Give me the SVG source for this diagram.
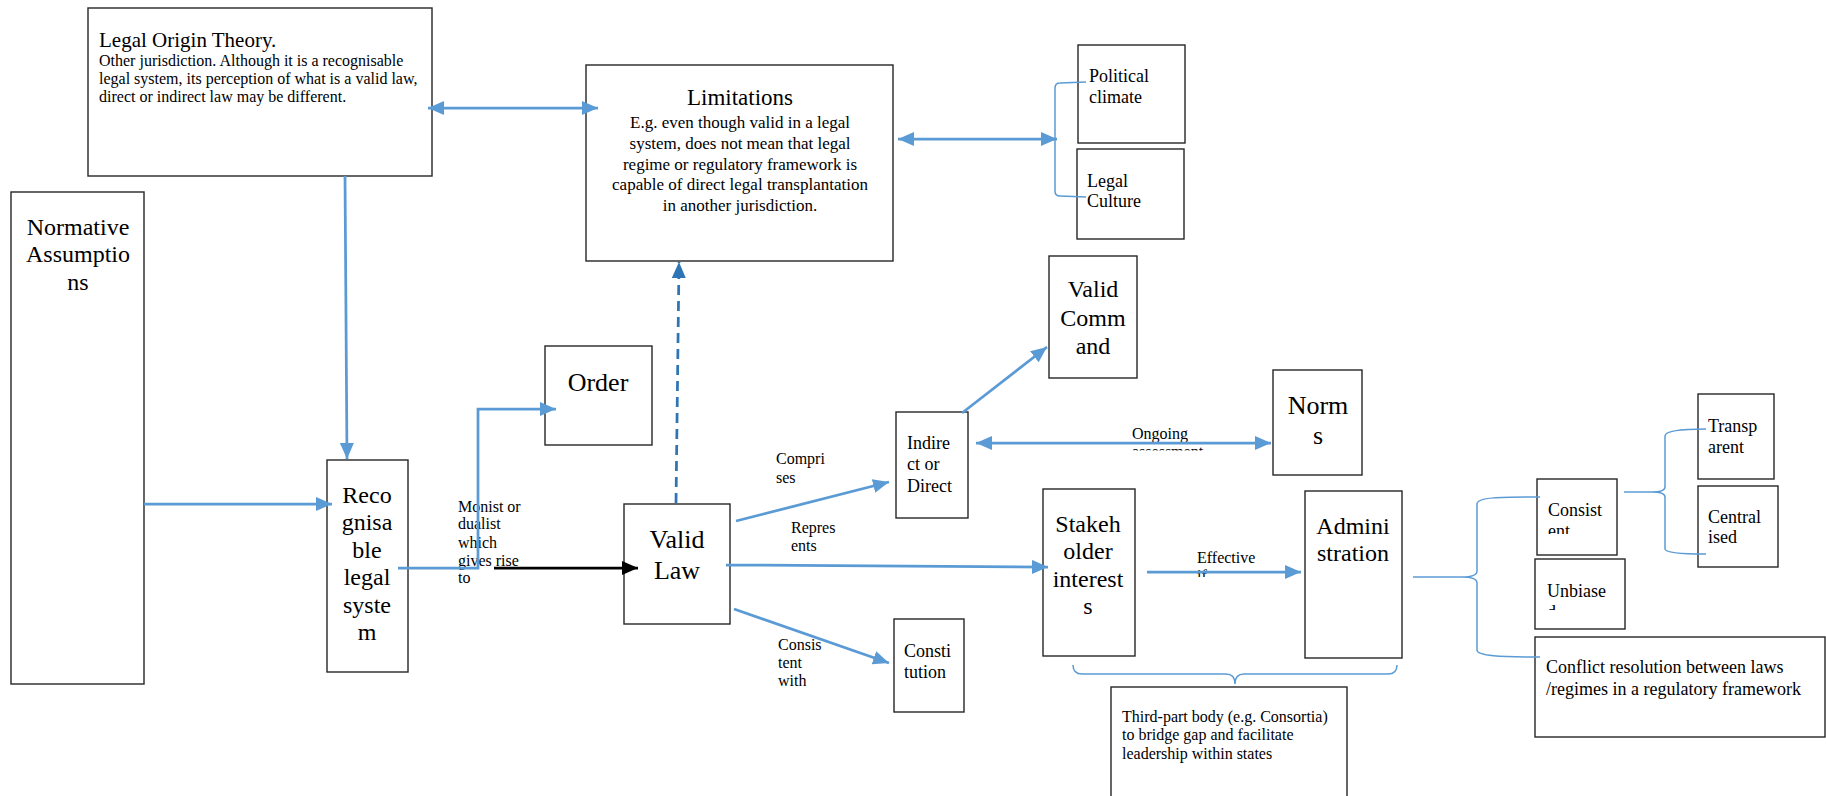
<svg xmlns="http://www.w3.org/2000/svg" width="1826" height="796" viewBox="0 0 1826 796">
  <style>
    .box { fill: #ffffff; stroke: #262626; stroke-width: 1.4; }
    .t { font-family: "Liberation Serif", "Times New Roman", serif; fill: #000000; }
    .big { font-size: 24px; }
    .huge { font-size: 26px; }
    .mid { font-size: 18px; }
    .small { font-size: 16px; }
    .c { text-anchor: middle; }
    .arrow { fill: none; stroke: #5B9BD5; stroke-width: 2.75; }
    .brace { fill: none; stroke: #5B9BD5; stroke-width: 1.5; }
    .dash { fill: none; stroke: #2E75B6; stroke-width: 2.75; stroke-dasharray: 10 6; }
    .black { fill: none; stroke: #000000; stroke-width: 2.75; }
  </style>
  <defs>
    <marker id="head" markerUnits="userSpaceOnUse" markerWidth="16" markerHeight="14" refX="16" refY="7" orient="auto-start-reverse">
      <path d="M0,0 L16,7 L0,14 Z" fill="#5B9BD5"/>
    </marker>
    <marker id="headDark" markerUnits="userSpaceOnUse" markerWidth="16" markerHeight="14" refX="16" refY="7" orient="auto">
      <path d="M0,0 L16,7 L0,14 Z" fill="#2E75B6"/>
    </marker>
    <marker id="headBlack" markerUnits="userSpaceOnUse" markerWidth="16" markerHeight="14" refX="16" refY="7" orient="auto">
      <path d="M0,0 L16,7 L0,14 Z" fill="#000000"/>
    </marker>
    <clipPath id="clipOngoing"><rect x="1120" y="420" width="110" height="30.5"/></clipPath>
    <clipPath id="clipEffective"><rect x="1190" y="540" width="80" height="37"/></clipPath>
    <clipPath id="clipConsistent"><rect x="1540" y="490" width="76" height="44"/></clipPath>
    <clipPath id="clipUnbiased"><rect x="1540" y="570" width="84" height="40"/></clipPath>
  </defs>

  <rect x="0" y="0" width="1826" height="796" fill="#ffffff"/>

  <!-- nodes -->
  <g id="legal-origin">
    <rect class="box" x="88" y="8" width="344" height="168"/>
    <text class="t" x="99" y="47" font-size="21">Legal Origin Theory.</text>
    <text class="t small" x="99" y="66">Other jurisdiction. Although it is a recognisable</text>
    <text class="t small" x="99" y="84">legal system, its perception of what is a valid law,</text>
    <text class="t small" x="99" y="102">direct or indirect law may be different.</text>
  </g>

  <g id="limitations">
    <rect class="box" x="586" y="65" width="307" height="196"/>
    <text class="t c" x="740" y="105" font-size="23">Limitations</text>
    <text class="t c" x="740" y="128" font-size="17">E.g. even though valid in a legal</text>
    <text class="t c" x="740" y="149" font-size="17">system, does not mean that legal</text>
    <text class="t c" x="740" y="170" font-size="17">regime or regulatory framework is</text>
    <text class="t c" x="740" y="190" font-size="17">capable of direct legal transplantation</text>
    <text class="t c" x="740" y="211" font-size="17">in another jurisdiction.</text>
  </g>

  <g id="political-climate">
    <rect class="box" x="1078" y="45" width="107" height="98"/>
    <text class="t mid" x="1089" y="82">Political</text>
    <text class="t mid" x="1089" y="103">climate</text>
  </g>

  <g id="legal-culture">
    <rect class="box" x="1077" y="149" width="107" height="90"/>
    <text class="t mid" x="1087" y="187">Legal</text>
    <text class="t mid" x="1087" y="207">Culture</text>
  </g>

  <g id="normative-assumptions">
    <rect class="box" x="11" y="192" width="133" height="492"/>
    <text class="t big c" x="78" y="235">Normative</text>
    <text class="t big c" x="78" y="262">Assumptio</text>
    <text class="t big c" x="78" y="290">ns</text>
  </g>

  <g id="recognisable-legal-system">
    <rect class="box" x="327" y="460" width="81" height="212"/>
    <text class="t big c" x="367" y="503">Reco</text>
    <text class="t big c" x="367" y="530">gnisa</text>
    <text class="t big c" x="367" y="558">ble</text>
    <text class="t big c" x="367" y="585">legal</text>
    <text class="t big c" x="367" y="613">syste</text>
    <text class="t big c" x="367" y="640">m</text>
  </g>

  <g id="order">
    <rect class="box" x="545" y="346" width="107" height="99"/>
    <text class="t huge c" x="598" y="391">Order</text>
  </g>

  <g id="valid-law">
    <rect class="box" x="624" y="504" width="106" height="120"/>
    <text class="t huge c" x="677" y="548">Valid</text>
    <text class="t huge c" x="677" y="579">Law</text>
  </g>

  <g id="indirect-or-direct">
    <rect class="box" x="896" y="412" width="72" height="106"/>
    <text class="t mid" x="907" y="449">Indire</text>
    <text class="t mid" x="907" y="470">ct or</text>
    <text class="t mid" x="907" y="492">Direct</text>
  </g>

  <g id="constitution">
    <rect class="box" x="894" y="619" width="70" height="93"/>
    <text class="t mid" x="904" y="657">Consti</text>
    <text class="t mid" x="904" y="678">tution</text>
  </g>

  <g id="valid-command">
    <rect class="box" x="1049" y="256" width="88" height="122"/>
    <text class="t big c" x="1093" y="297">Valid</text>
    <text class="t big c" x="1093" y="326">Comm</text>
    <text class="t big c" x="1093" y="354">and</text>
  </g>

  <g id="norms">
    <rect class="box" x="1273" y="370" width="89" height="105"/>
    <text class="t huge c" x="1318" y="414">Norm</text>
    <text class="t huge c" x="1318" y="444">s</text>
  </g>

  <g id="stakeholder-interests">
    <rect class="box" x="1043" y="489" width="92" height="167"/>
    <text class="t big c" x="1088" y="532">Stakeh</text>
    <text class="t big c" x="1088" y="559">older</text>
    <text class="t big c" x="1088" y="587">interest</text>
    <text class="t big c" x="1088" y="614">s</text>
  </g>

  <g id="administration">
    <rect class="box" x="1305" y="491" width="97" height="167"/>
    <text class="t big c" x="1353" y="534">Admini</text>
    <text class="t big c" x="1353" y="561">stration</text>
  </g>

  <g id="third-party-body">
    <rect class="box" x="1111" y="687" width="236" height="130"/>
    <text class="t small" x="1122" y="722">Third-part body (e.g. Consortia)</text>
    <text class="t small" x="1122" y="740">to bridge gap and facilitate</text>
    <text class="t small" x="1122" y="759">leadership within states</text>
  </g>

  <g id="consistent">
    <rect class="box" x="1537" y="479" width="80" height="76"/>
    <g clip-path="url(#clipConsistent)">
      <text class="t mid" x="1548" y="516">Consist</text>
      <text class="t mid" x="1548" y="537">ent</text>
    </g>
  </g>

  <g id="unbiased">
    <rect class="box" x="1535" y="559" width="90" height="70"/>
    <g clip-path="url(#clipUnbiased)">
      <text class="t mid" x="1547" y="597">Unbiase</text>
      <text class="t mid" x="1547" y="618">d</text>
    </g>
  </g>

  <g id="conflict-resolution">
    <rect class="box" x="1535" y="637" width="290" height="100"/>
    <text class="t mid" x="1546" y="673">Conflict resolution between laws</text>
    <text class="t mid" x="1546" y="695">/regimes in a regulatory framework</text>
  </g>

  <g id="transparent">
    <rect class="box" x="1698" y="394" width="76" height="85"/>
    <text class="t mid" x="1708" y="432">Transp</text>
    <text class="t mid" x="1708" y="453">arent</text>
  </g>

  <g id="centralised">
    <rect class="box" x="1698" y="486" width="80" height="81"/>
    <text class="t mid" x="1708" y="523">Central</text>
    <text class="t mid" x="1708" y="543">ised</text>
  </g>

  <!-- edge labels -->
  <g id="labels">
    <text class="t small" x="458" y="512">Monist or</text>
    <text class="t small" x="458" y="529">dualist</text>
    <text class="t small" x="458" y="548">which</text>
    <text class="t small" x="458" y="566">gives rise</text>
    <text class="t small" x="458" y="583">to</text>

    <text class="t small" x="776" y="464">Compri</text>
    <text class="t small" x="776" y="483">ses</text>

    <text class="t small" x="791" y="533">Repres</text>
    <text class="t small" x="791" y="551">ents</text>

    <text class="t small" x="778" y="650">Consis</text>
    <text class="t small" x="778" y="668">tent</text>
    <text class="t small" x="778" y="686">with</text>

    <g clip-path="url(#clipOngoing)">
      <text class="t small" x="1132" y="439">Ongoing</text>
      <text class="t small" x="1132" y="457">assessment</text>
    </g>

    <g clip-path="url(#clipEffective)">
      <text class="t small" x="1197" y="563">Effective</text>
      <text class="t small" x="1197" y="581">if</text>
    </g>
  </g>

  <!-- connectors -->
  <g id="connectors">
    <path class="arrow" d="M345,176 L347,459" marker-end="url(#head)"/>
    <path class="arrow" d="M144,504 L332,504" marker-end="url(#head)"/>
    <path class="arrow" d="M428,108 L598,108" marker-start="url(#head)" marker-end="url(#head)"/>
    <path class="arrow" d="M898,139 L1057,139" marker-start="url(#head)" marker-end="url(#head)"/>
    <path class="dash" d="M676,503 L679,262" marker-end="url(#headDark)"/>
    <path class="arrow" d="M398,568 L478,568 L478,409 L556,409" marker-end="url(#head)"/>
    <path class="black" d="M494,568 L638,568" marker-end="url(#headBlack)"/>
    <path class="arrow" d="M736,521 L889,482" marker-end="url(#head)"/>
    <path class="arrow" d="M726,565 L1048,567" marker-end="url(#head)"/>
    <path class="arrow" d="M734,609 L889,663" marker-end="url(#head)"/>
    <path class="arrow" d="M962,413 L1047,347" marker-end="url(#head)"/>
    <path class="arrow" d="M976,443 L1271,443" marker-start="url(#head)" marker-end="url(#head)"/>
    <path class="arrow" d="M1147,572 L1301,572" marker-end="url(#head)"/>

    <!-- brackets -->
    <path class="brace" d="M1086,82 L1060,83 Q1055,83 1055,88 L1055,191 Q1055,196 1060,196 L1086,197"/>
    <path class="brace" d="M1413,577 L1462,577"/>
    <path class="brace" d="M1540,497 C1500,497 1477,497 1477,504 L1477,571 C1477,576 1470,577 1462,577 C1470,577 1477,578 1477,583 L1477,650 C1477,656 1500,657 1540,657"/>
    <path class="brace" d="M1624,492 L1652,492"/>
    <path class="brace" d="M1706,429 C1685,429 1665,430 1665,436 L1665,487 C1665,491 1660,492 1652,492 C1660,492 1665,493 1665,497 L1665,549 C1665,553 1685,554 1706,554"/>
    <path class="brace" d="M1073,665 Q1073,674 1082,674 L1226,674 Q1235,674 1235,684 Q1235,674 1244,674 L1388,674 Q1397,674 1397,665"/>
  </g>
</svg>
